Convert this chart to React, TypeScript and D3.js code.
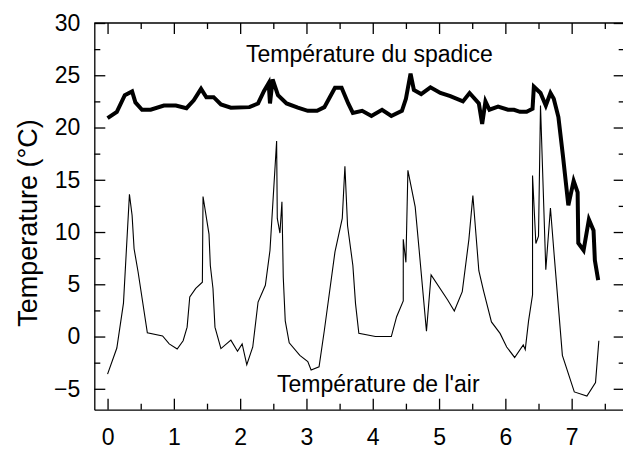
import React, { useRef, useEffect } from 'react';
import * as d3 from 'd3';

// temps en jours, températures en °C
const spadixDays = [0.0, 0.14, 0.26, 0.37, 0.42, 0.52, 0.65, 0.85, 1.03, 1.19, 1.30, 1.41, 1.49, 1.60, 1.71, 1.86, 2.14, 2.27, 2.36, 2.43, 2.45, 2.49, 2.57, 2.70, 2.87, 3.02, 3.16, 3.27, 3.43, 3.53, 3.63, 3.70, 3.84, 3.98, 4.14, 4.28, 4.44, 4.50, 4.57, 4.62, 4.73, 4.87, 5.02, 5.17, 5.36, 5.46, 5.60, 5.65, 5.70, 5.76, 5.89, 6.04, 6.13, 6.22, 6.32, 6.41, 6.43, 6.53, 6.61, 6.68, 6.73, 6.80, 6.87, 6.95, 7.03, 7.09, 7.10, 7.18, 7.26, 7.33, 7.35, 7.40];
const spadixTemps = [20.9, 21.5, 23.1, 23.45, 22.4, 21.7, 21.7, 22.1, 22.1, 21.85, 22.6, 23.7, 22.9, 22.9, 22.2, 21.9, 21.95, 22.3, 23.5, 24.25, 22.3, 24.6, 23.1, 22.3, 21.9, 21.6, 21.6, 21.95, 23.8, 23.8, 22.3, 21.4, 21.6, 21.1, 21.7, 21.1, 21.6, 22.75, 25.15, 23.6, 23.2, 23.85, 23.3, 23.0, 22.5, 23.3, 22.3, 20.35, 22.5, 21.7, 22.0, 21.7, 21.7, 21.5, 21.5, 21.8, 23.9, 23.3, 22.1, 23.3, 22.75, 21.0, 17.2, 12.55, 14.9, 13.8, 8.95, 8.25, 11.2, 10.15, 7.3, 5.4];

const airDays = [0.0, 0.14, 0.24, 0.33, 0.37, 0.40, 0.46, 0.60, 0.83, 0.93, 1.05, 1.14, 1.20, 1.24, 1.33, 1.43, 1.44, 1.53, 1.55, 1.59, 1.62, 1.71, 1.86, 1.96, 2.03, 2.10, 2.19, 2.27, 2.38, 2.45, 2.55, 2.56, 2.60, 2.63, 2.65, 2.68, 2.74, 2.90, 3.02, 3.07, 3.19, 3.27, 3.43, 3.54, 3.58, 3.62, 3.70, 3.74, 3.79, 4.04, 4.28, 4.36, 4.46, 4.46, 4.50, 4.53, 4.64, 4.70, 4.81, 4.88, 5.13, 5.23, 5.35, 5.45, 5.51, 5.60, 5.67, 5.79, 5.92, 6.02, 6.14, 6.27, 6.30, 6.35, 6.41, 6.41, 6.46, 6.50, 6.53, 6.61, 6.68, 6.74, 6.86, 7.04, 7.23, 7.36, 7.41];
const airTemps = [-3.6, -1.1, 3.2, 13.6, 11.6, 8.4, 6.2, 0.35, 0.05, -0.7, -1.2, -0.4, 0.9, 3.8, 4.6, 5.2, 13.4, 9.8, 6.8, 4.6, 0.9, -1.15, -0.35, -1.4, -0.7, -2.7, -1.0, 3.3, 4.9, 8.25, 18.7, 11.3, 9.9, 12.9, 5.7, 1.5, -0.6, -1.8, -2.4, -3.2, -2.9, 0.6, 8.1, 11.3, 16.3, 10.6, 6.8, 3.15, 0.3, 0.0, 0.0, 1.9, 3.4, 9.3, 7.1, 15.9, 12.4, 8.25, 0.5, 5.9, 3.5, 2.45, 4.3, 9.3, 13.5, 6.3, 4.4, 1.4, 0.3, -1.0, -2.0, -0.8, -1.25, 1.5, 4.0, 15.4, 8.9, 9.6, 22.1, 6.4, 12.3, 7.5, -1.8, -5.3, -5.7, -4.4, -0.4];

const xTicks = [0, 1, 2, 3, 4, 5, 6, 7];
const xMinorTicks = [0.5, 1.5, 2.5, 3.5, 4.5, 5.5, 6.5, 7.5];
const yTicks = [-5, 0, 5, 10, 15, 20, 25, 30];
const yMinorTicks = [-2.5, 2.5, 7.5, 12.5, 17.5, 22.5, 27.5];

const spadixLabel = 'Température du spadice';
const airLabel = "Température de l'air";
const yTitle = 'Temperature (°C)';

const FONT = '"Liberation Sans", Arial, Helvetica, sans-serif';

const App = () => {
  const svgRef = useRef<SVGSVGElement>(null);

  useEffect(() => {
    const svg = d3.select(svgRef.current);
    svg.selectAll('*').remove();

    const width = 623;
    const height = 449;
    const left = 94.3, right = 624.7, top = 23, bottom = 409.7;

    const x = d3.scaleLinear().domain([-0.2, 7.8]).range([left, right]);
    const y = d3.scaleLinear().domain([-7, 30]).range([bottom, top]);

    svg.attr('width', width).attr('height', height);
    svg.append('rect').attr('width', width).attr('height', height).attr('fill', '#fff');

    const major = 11;
    const minor = 6;

    // cadre : axes sur les quatre côtés, graduations vers l'intérieur
    const styleAxis = (g, labels) => {
      g.select('.domain').attr('stroke', '#000').attr('stroke-width', 1.3);
      g.selectAll('.tick line').attr('stroke', '#000').attr('stroke-width', 1.3);
      g.selectAll('.tick text')
        .style('font-family', FONT)
        .style('font-size', '23px')
        .attr('fill', labels ? '#000' : 'none');
    };

    const addAxis = (axisFn, scale, transform, values, size, labels, pad) => {
      const g = svg.append('g').attr('transform', transform);
      g.call(axisFn(scale).tickValues(values).tickSize(-size).tickSizeOuter(0).tickPadding(pad).tickFormat(labels ? d3.format('d') : () => ''));
      styleAxis(g, labels);
      if (!labels) g.select('.domain').remove();
      return g;
    };

    // bas
    addAxis(d3.axisBottom, x, `translate(0,${bottom})`, xTicks, major, true, 19);
    addAxis(d3.axisBottom, x, `translate(0,${bottom})`, xMinorTicks, minor, false, 0);
    // haut
    addAxis(d3.axisTop, x, `translate(0,${top})`, xTicks, major, false, 0);
    addAxis(d3.axisTop, x, `translate(0,${top})`, xMinorTicks, minor, false, 0);
    svg.append('line').attr('x1', left).attr('x2', right).attr('y1', top).attr('y2', top)
      .attr('stroke', '#000').attr('stroke-width', 1.3);
    // gauche
    addAxis(d3.axisLeft, y, `translate(${left},0)`, yTicks, major, true, 14);
    addAxis(d3.axisLeft, y, `translate(${left},0)`, yMinorTicks, minor, false, 0);
    // droite
    addAxis(d3.axisRight, y, `translate(${right},0)`, yTicks, major, false, 0);
    addAxis(d3.axisRight, y, `translate(${right},0)`, yMinorTicks, minor, false, 0);

    const line = d3.line<[number, number]>()
      .x(d => x(d[0]))
      .y(d => y(d[1]));

    const air = airDays.map((d, i) => [d, airTemps[i]] as [number, number]);
    const spadix = spadixDays.map((d, i) => [d, spadixTemps[i]] as [number, number]);

    svg.append('path')
      .datum(air)
      .attr('fill', 'none')
      .attr('stroke', '#000')
      .attr('stroke-width', 1.1)
      .attr('stroke-linejoin', 'miter')
      .attr('d', line);

    svg.append('path')
      .datum(spadix)
      .attr('fill', 'none')
      .attr('stroke', '#000')
      .attr('stroke-width', 4)
      .attr('stroke-linejoin', 'miter')
      .attr('d', line);

    // étiquettes
    svg.append('text')
      .attr('x', 246)
      .attr('y', 62)
      .style('font-family', FONT)
      .style('font-size', '23px')
      .text(spadixLabel);

    svg.append('text')
      .attr('x', 277)
      .attr('y', 392)
      .style('font-family', FONT)
      .style('font-size', '23px')
      .text(airLabel);

    svg.append('text')
      .attr('transform', `translate(37,223) rotate(-90)`)
      .style('text-anchor', 'middle')
      .style('font-family', FONT)
      .style('font-size', '27px')
      .text(yTitle);
  }, []);

  return (
    <div style={{ position: 'absolute', left: 0, top: 0 }}>
      <svg ref={svgRef} style={{ display: 'block' }} />
    </div>
  );
};

export default App;
